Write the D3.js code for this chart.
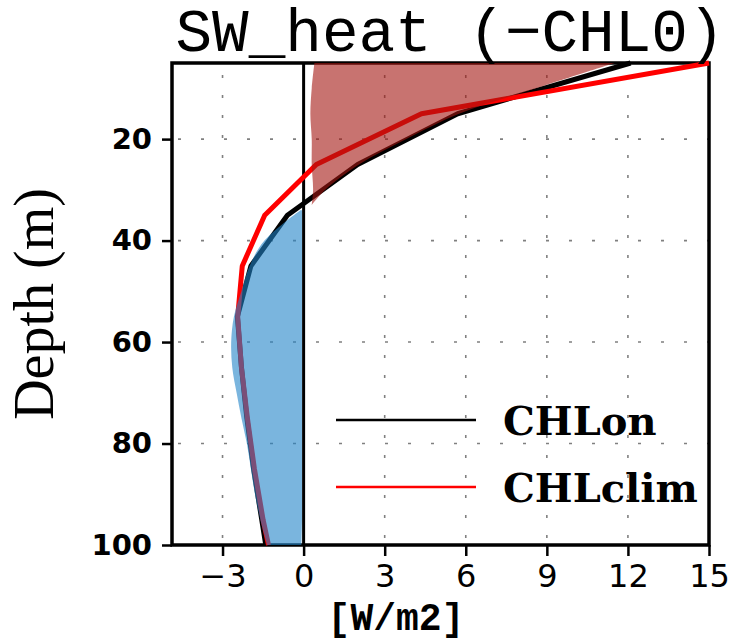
<!DOCTYPE html>
<html lang="en">
<head>
<meta charset="utf-8">
<title>SW_heat (-CHL0)</title>
<script src="https://cdn.jsdelivr.net/npm/d3@7"></script>
<style>
    body { margin: 0; background: #fff; }
    svg { display: block; }
    .grid line { stroke: #808080; stroke-width: 1.6px; }
</style>
</head>
<body>
<div id="chart"></div>
<script>
// depth levels (m) and profiles (W/m2)
var depth    = [5, 15, 25, 35, 45, 55, 65, 75, 85, 95, 100];
var chlOn    = [12.1, 5.7, 2.0, -0.6, -1.95, -2.45, -2.3, -2.1, -1.85, -1.55, -1.4];
var chlClim  = [15.0, 4.36, 0.47, -1.44, -2.27, -2.44, -2.3, -2.08, -1.82, -1.5, -1.3];

// shaded difference (positive part, red)
var posDepth = [5, 10, 15, 20, 25, 30, 33];
var posInner = [0.4, 0.3, 0.25, 0.3, 0.3, 0.35, 0.3];
var posOuter = [11.5, 8.6, 5.75, 3.8, 2.05, 0.8, 0.3];

// shaded difference (negative part, blue)
var negDepth = [34, 40, 45, 50, 55, 60, 65, 70, 75, 80, 85, 90, 95, 100];
var negOuter = [-0.12, -1.45, -2.0, -2.3, -2.58, -2.68, -2.64, -2.48, -2.3, -2.1, -1.95, -1.8, -1.6, -1.35];
var negInner = [-0.06, -0.06, -0.06, -0.06, -0.06, -0.06, -0.06, -0.06, -0.06, -0.06, -0.06, -0.06, -0.06, -0.08];

var xTicks = [-3, 0, 3, 6, 9, 12, 15];
var yTicks = [20, 40, 60, 80, 100];
var seriesNames = ['CHLon', 'CHLclim'];

var svgWidth = 732, svgHeight = 640;
var plotLeft = 172, plotRight = 709, plotTop = 63, plotBottom = 545;

var svg = d3.select('#chart').append('svg')
    .attr('width', svgWidth)
    .attr('height', svgHeight);

var x = d3.scaleLinear().domain([-4.87, 15]).range([plotLeft, plotRight]);
var y = d3.scaleLinear().domain([5, 100]).range([plotTop, plotBottom]);

svg.append('defs').append('clipPath').attr('id', 'clip')
    .append('rect')
    .attr('x', plotLeft).attr('y', plotTop - 4)
    .attr('width', plotRight - plotLeft + 4).attr('height', plotBottom - plotTop + 6);

// grid
var grid = svg.append('g').attr('class', 'grid');
grid.selectAll('.gx').data(xTicks.filter(d => d !== 0)).enter().append('line')
    .attr('x1', d => x(d)).attr('x2', d => x(d))
    .attr('y1', plotTop + 12).attr('y2', plotBottom)
    .attr('stroke-dasharray', '3,17');
grid.selectAll('.gy').data(yTicks.filter(d => d !== 100)).enter().append('line')
    .attr('x1', plotLeft + 6).attr('x2', plotRight)
    .attr('y1', d => y(d)).attr('y2', d => y(d))
    .attr('stroke-dasharray', '3,20');

// zero line
svg.append('line')
    .attr('x1', x(0)).attr('x2', x(0))
    .attr('y1', plotTop).attr('y2', plotBottom)
    .attr('stroke', '#000').attr('stroke-width', 3);

// frame
svg.append('rect')
    .attr('x', plotLeft).attr('y', plotTop)
    .attr('width', plotRight - plotLeft).attr('height', plotBottom - plotTop)
    .attr('fill', 'none').attr('stroke', '#000').attr('stroke-width', 3.5);

// axes
var xAxis = d3.axisBottom(x).tickValues(xTicks).tickSize(11).tickPadding(8);
var yAxis = d3.axisLeft(y).tickValues(yTicks).tickSize(10).tickPadding(10);

var gx = svg.append('g').attr('transform', `translate(0, ${plotBottom})`).call(xAxis);
gx.select('.domain').remove();
gx.selectAll('line').attr('stroke-width', 2.5);
gx.selectAll('text')
    .style('font-family', 'DejaVu Sans')
    .style('font-size', '32px')
    .attr('fill', '#000');

var gy = svg.append('g').attr('transform', `translate(${plotLeft}, 0)`).call(yAxis);
gy.select('.domain').remove();
gy.selectAll('line').attr('stroke-width', 2.5);
gy.selectAll('text')
    .style('font-family', 'DejaVu Sans')
    .style('font-weight', 'bold')
    .style('font-size', '29px')
    .attr('fill', '#000');

// profiles
var line = d3.line()
    .x(d => x(d[0]))
    .y(d => y(d[1]));

var plot = svg.append('g').attr('clip-path', 'url(#clip)');
plot.append('path')
    .attr('d', line(depth.map((d, i) => [chlOn[i], d])))
    .attr('fill', 'none').attr('stroke', '#000').attr('stroke-width', 5)
    .attr('stroke-linejoin', 'round');
plot.append('path')
    .attr('d', line(depth.map((d, i) => [chlClim[i], d])))
    .attr('fill', 'none').attr('stroke', '#ff0000').attr('stroke-width', 5)
    .attr('stroke-linejoin', 'round');

// shading
var area = d3.area()
    .y(d => y(d[0]))
    .x0(d => x(d[1]))
    .x1(d => x(d[2]))
    .curve(d3.curveCatmullRom);

plot.append('path')
    .attr('d', area(posDepth.map((d, i) => [d, posInner[i], posOuter[i]])))
    .attr('fill', 'rgb(163,22,17)').attr('fill-opacity', 0.6);
plot.append('path')
    .attr('d', area(negDepth.map((d, i) => [d, negInner[i], negOuter[i]])))
    .attr('fill', 'rgb(34,132,200)').attr('fill-opacity', 0.6);

// legend
var legend = svg.append('g');
var legColors = ['#000', '#ff0000'];
var legY = [420, 487];
seriesNames.forEach(function (name, i) {
    legend.append('line')
        .attr('x1', 336).attr('x2', 476)
        .attr('y1', legY[i]).attr('y2', legY[i])
        .attr('stroke', legColors[i]).attr('stroke-width', 2.5);
    legend.append('text')
        .attr('x', 503).attr('y', legY[i] + 15)
        .style('font-family', 'DejaVu Serif')
        .style('font-weight', 'bold')
        .style('font-size', '40px')
        .text(name);
});

// titles
svg.append('text')
    .attr('x', 450).attr('y', 51)
    .attr('text-anchor', 'middle')
    .style('font-family', 'Liberation Mono')
    .style('font-size', '61px')
    .text('SW_heat (\u2212CHL0)');

svg.append('text')
    .attr('transform', 'translate(53, 304) rotate(-90)')
    .attr('text-anchor', 'middle')
    .style('font-family', 'Liberation Serif')
    .style('font-size', '56px')
    .text('Depth (m)');

svg.append('text')
    .attr('x', 396).attr('y', 630)
    .attr('text-anchor', 'middle')
    .style('font-family', 'Liberation Mono')
    .style('font-weight', 'bold')
    .style('font-size', '38px')
    .text('[W/m2]');
</script>
</body>
</html>
